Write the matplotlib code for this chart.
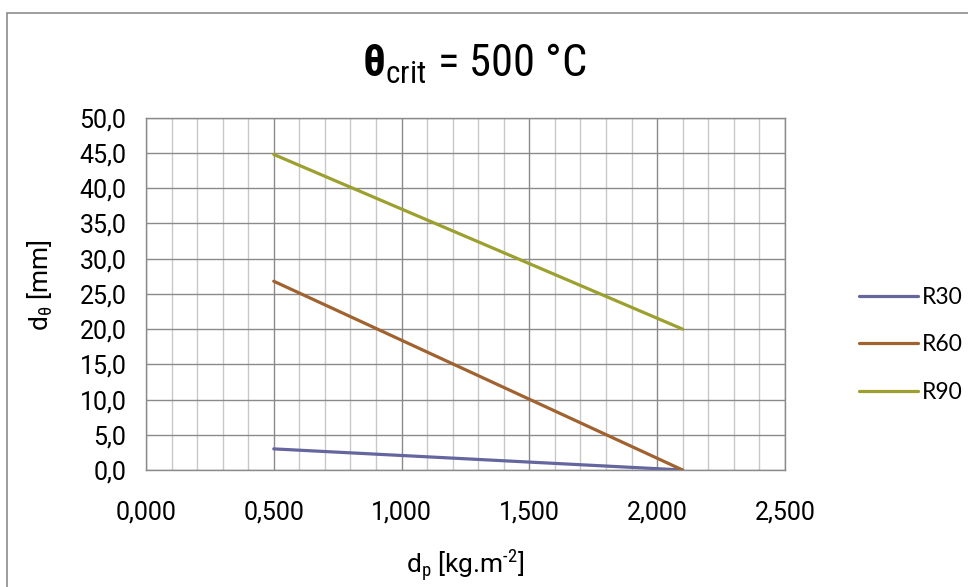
import matplotlib
matplotlib.use("Agg")
import matplotlib.pyplot as plt
from matplotlib import font_manager
from matplotlib.patches import Rectangle
from matplotlib.ticker import MultipleLocator

plt.rcParams["font.family"] = ["Roboto", "DejaVu Sans"]
plt.rcParams["mathtext.fontset"] = "custom"
plt.rcParams["mathtext.rm"] = "Roboto"
plt.rcParams["mathtext.it"] = "Roboto"
plt.rcParams["mathtext.bf"] = "Roboto:bold"

# condensed face for the title if one is installed
names = {f.name for f in font_manager.fontManager.ttflist}
title_font = "Roboto Condensed" if "Roboto Condensed" in names else (
    "Liberation Sans Narrow" if "Liberation Sans Narrow" in names else "Roboto")

# data
dp = [0.5, 2.1]
series = ["R30", "R60", "R90"]
r30 = [3.0, 0.0]
r60 = [26.8, 0.0]
r90 = [44.8, 20.0]
colors = ["#65659f", "#a0622f", "#9ca02f"]

x_ticks = [0.0, 0.5, 1.0, 1.5, 2.0, 2.5]
y_ticks = [0, 5, 10, 15, 20, 25, 30, 35, 40, 45, 50]

fig = plt.figure(figsize=(9.68, 5.87), dpi=100)
ax = fig.add_axes([0.1508, 0.1993, 0.66, 0.6])

# outer chart frame
fig.patches.append(Rectangle((0.0072, -0.01), 1.0, 0.988, transform=fig.transFigure,
                             fill=False, edgecolor="#8c8c8c", linewidth=1.2))

for vals, name, c in zip([r30, r60, r90], series, colors):
    ax.plot(dp, vals, color=c, linewidth=2.3, label=name, solid_capstyle="round")

ax.set_xlim(0, 2.5)
ax.set_ylim(0, 50)
ax.set_xticks(x_ticks)
ax.set_xticklabels([f"{v:.3f}".replace(".", ",") for v in x_ticks])
ax.set_yticks(y_ticks)
ax.set_yticklabels([f"{v:.1f}".replace(".", ",") for v in y_ticks])
ax.xaxis.set_minor_locator(MultipleLocator(0.1))

ax.grid(which="major", color="#8a8a8a", linewidth=1.0)
ax.grid(which="minor", axis="x", color="#c8c8c8", linewidth=1.0)
ax.set_axisbelow(True)
for s in ax.spines.values():
    s.set_color("#8a8a8a")
    s.set_linewidth(1.0)
ax.tick_params(which="both", length=0)
ax.tick_params(axis="x", pad=22, labelsize=18)
ax.tick_params(axis="y", pad=14, labelsize=18)

ax.set_xlabel("d$_\\mathrm{p}$ [kg.m$^{\\text{-2}}$]", fontsize=19, va="center")
ax.xaxis.set_label_coords(0.50, -0.27)
ax.set_ylabel("d$_{\\mathrm{θ}}$ [mm]", fontsize=19, va="center")
ax.yaxis.set_label_coords(-0.166, 0.526)

if title_font == "Roboto":
    fig.text(0.49, 0.8688, "$\\mathbf{θ}_{\\mathrm{crit}}$ = 500 °C", ha="center",
             va="baseline", fontsize=28)
else:
    plt.rcParams["mathtext.rm"] = title_font
    plt.rcParams["mathtext.bf"] = title_font + ":bold"
    fig.text(0.49, 0.8688, "$\\mathbf{θ}_{\\mathrm{crit}}$ = 500 °C", ha="center",
             va="baseline", fontsize=32, family=title_font)

leg = ax.legend(loc="center left", bbox_to_anchor=(0.8874, 0.4123), bbox_transform=fig.transFigure,
                frameon=False, handlelength=2.58, handletextpad=0.18, borderpad=0,
                borderaxespad=0, labelspacing=1.17, prop={"family": "Lato", "size": 16.5})

plt.savefig("out.png", dpi=100)
plt.close()
